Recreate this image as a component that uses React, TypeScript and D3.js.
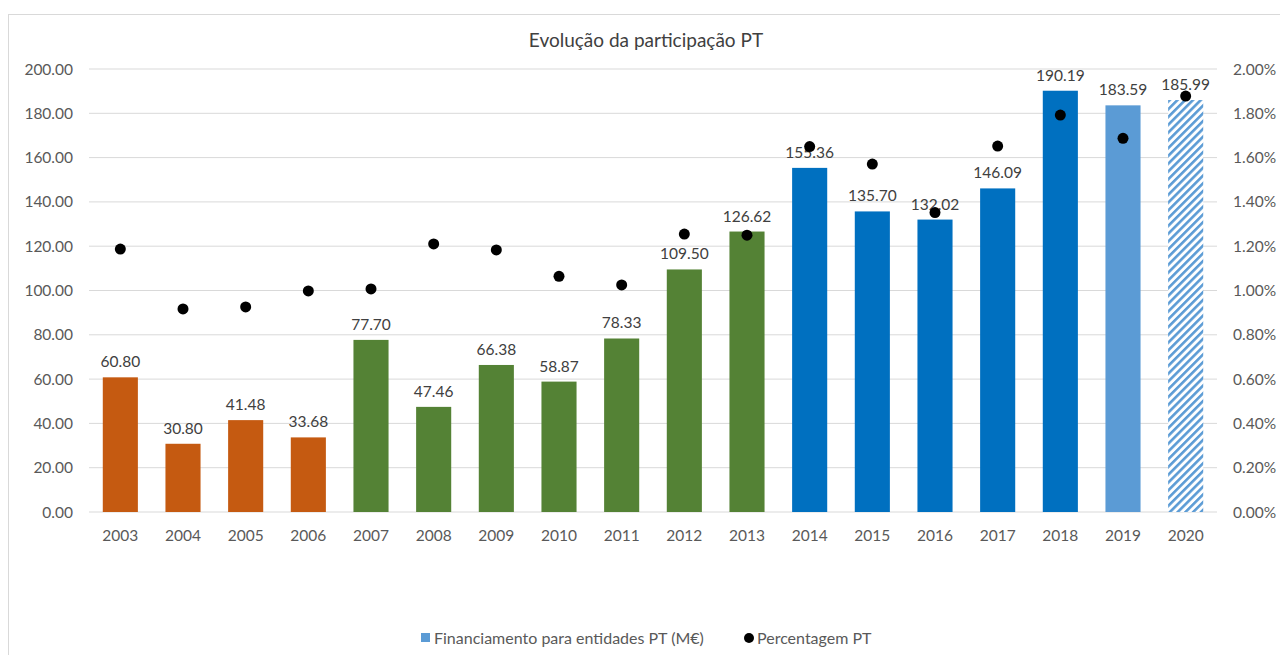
import * as React from "react"
import * as d3 from "d3"

const years = [
  "2003", "2004", "2005", "2006", "2007", "2008", "2009", "2010", "2011",
  "2012", "2013", "2014", "2015", "2016", "2017", "2018", "2019", "2020",
]
const funding = [
  60.8, 30.8, 41.48, 33.68, 77.7, 47.46, 66.38, 58.87, 78.33, 109.5, 126.62,
  155.36, 135.7, 132.02, 146.09, 190.19, 183.59, 185.99,
]
const percentage = [
  1.187, 0.917, 0.926, 0.998, 1.007, 1.21, 1.183, 1.064, 1.025, 1.255, 1.25,
  1.65, 1.571, 1.352, 1.652, 1.792, 1.687, 1.878,
]
const groups = [
  "a", "a", "a", "a", "b", "b", "b", "b", "b", "b", "b",
  "c", "c", "c", "c", "c", "d", "e",
]
const leftTicks = [0, 20, 40, 60, 80, 100, 120, 140, 160, 180, 200]
const rightTicks = [0, 0.2, 0.4, 0.6, 0.8, 1.0, 1.2, 1.4, 1.6, 1.8, 2.0]

const groupColor: Record<string, string> = {
  a: "#C55A11",
  b: "#548235",
  c: "#0070C0",
  d: "#5B9BD5",
  e: "url(#hatch)",
}

const FONT = "Lato, 'Noto Sans', sans-serif"

export default function App() {
  const width = 1280
  const height = 655
  const left = 89
  const right = 1217
  const top = 69
  const bottom = 512

  const x = d3.scaleBand<string>().domain(years).range([left, right]).padding(0)
  const y = d3.scaleLinear().domain([0, 200]).range([bottom, top])
  const y2 = d3.scaleLinear().domain([0, 2]).range([bottom, top])
  const barW = x.bandwidth() * 0.56

  return (
    <svg
      width={width}
      height={height}
      style={{ position: "absolute", left: 0, top: 0, background: "#fff" }}
      fontFamily={FONT}
    >
      <defs>
        <pattern
          id="hatch"
          patternUnits="userSpaceOnUse"
          width={5.5}
          height={5.5}
          patternTransform="rotate(45)"
        >
          <rect width={5.5} height={5.5} fill="#fff" />
          <rect x={0} y={0} width={2.6} height={5.5} fill="#5B9BD5" />
        </pattern>
      </defs>
      <rect x={8.5} y={14.5} width={1300} height={700} fill="#fff" stroke="#d9d9d9" />

      <text x={646} y={47} textAnchor="middle" fontSize={19} fill="#404040">
        Evolução da participação PT
      </text>

      {leftTicks.map((t) => (
        <g key={t}>
          <line x1={left} x2={right} y1={y(t)} y2={y(t)} stroke="#d9d9d9" strokeWidth={1} />
          <text x={73} y={y(t) + 5.5} textAnchor="end" fontSize={15.5} fill="#595959">
            {t.toFixed(2)}
          </text>
        </g>
      ))}
      {rightTicks.map((t) => (
        <text key={t} x={1233} y={y2(t) + 5.5} textAnchor="start" fontSize={15.5} fill="#595959">
          {t.toFixed(2) + "%"}
        </text>
      ))}

      {years.map((yr, i) => {
        const cx = (x(yr) as number) + x.bandwidth() / 2
        return (
          <g key={yr}>
            <rect
              x={cx - barW / 2}
              y={y(funding[i])}
              width={barW}
              height={bottom - y(funding[i])}
              fill={groupColor[groups[i]]}
            />
            <text x={cx} y={y(funding[i]) - 10} textAnchor="middle" fontSize={15.5} fill="#404040">
              {funding[i].toFixed(2)}
            </text>
            <text x={cx} y={bottom + 29} textAnchor="middle" fontSize={15.5} fill="#595959">
              {yr}
            </text>
          </g>
        )
      })}

      {years.map((yr, i) => (
        <circle
          key={"d" + yr}
          cx={(x(yr) as number) + x.bandwidth() / 2}
          cy={y2(percentage[i])}
          r={5.5}
          fill="#000"
        />
      ))}

      <g fontSize={16} fill="#595959">
        <rect x={421} y={633} width={9} height={9} fill="#5B9BD5" />
        <text x={434} y={644}>Financiamento para entidades PT (M€)</text>
        <circle cx={749} cy={638} r={5} fill="#000" />
        <text x={757} y={644}>Percentagem PT</text>
      </g>
    </svg>
  )
}
